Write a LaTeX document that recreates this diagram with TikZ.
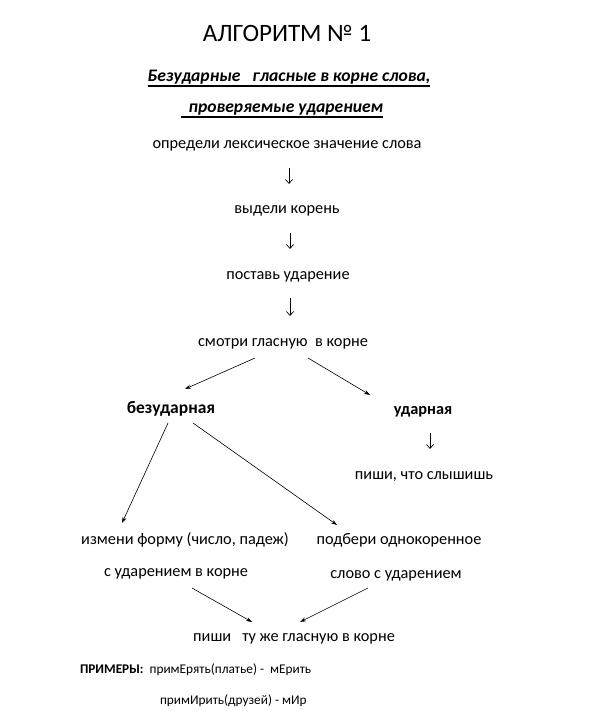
\documentclass[tikz,border=0pt]{standalone}
\usepackage{fontspec}
\setmainfont{Carlito}
\usetikzlibrary{arrows.meta}
\begin{document}
\begin{tikzpicture}[x=1pt,y=-1pt,
    every node/.style={anchor=base, inner sep=0pt, outer sep=0pt, font=\fontsize{16.3}{19}\selectfont},
    head/.style={font=\fontsize{17.6}{21}\bfseries\itshape\selectfont},
    key/.style={font=\fontsize{16.3}{19}\bfseries\selectfont},
    small/.style={anchor=base west, font=\fontsize{13.3}{16}\selectfont},
    uline/.style={line width=1.1pt},
    arr/.style={-{Stealth[length=6pt,width=4pt]}, line width=0.6pt},
    down/.style={-{Straight Barb[length=4pt,width=7pt]}, line width=0.7pt, shorten <=19pt, shorten >=30pt}]
    \useasboundingbox[fill=white] (0,0) rectangle (591,711);
    \node[font=\fontsize{25}{30}\selectfont] (title) at (287,42) {АЛГОРИТМ № 1};
    \node[head] (sub1) at (289,82) {Безударные\ \ \ гласные в корне слова,};
    \node[head] (sub2) at (282,113) {\ \ проверяемые ударением};
    \draw[uline] ([yshift=-4pt]sub1.base west) -- ([yshift=-4pt]sub1.base east);
    \draw[uline] ([yshift=-4pt]sub2.base west) -- ([yshift=-4pt]sub2.base east);
    \node (meaning) at (287,149) {определи лексическое значение слова};
    \node (root) at (287,214) {выдели корень};
    \node (stress) at (288,279) {поставь ударение};
    \node (look) at (283,346) {смотри гласную\ \ в корне};
    \node[key, font=\fontsize{17.5}{21}\bfseries\selectfont] (unstr) at (171,413) {безударная};
    \node[key] (str) at (423,414) {ударная};
    \node (hear) at (424,479) {пиши, что слышишь};
    \node (form1) at (185,544) {измени форму (число, падеж)};
    \node (form2) at (176,576) {с ударением в корне};
    \node (kin1) at (399,544) {подбери однокоренное};
    \node (kin2) at (396,578) {слово с ударением};
    \node (write) at (294,641) {пиши\ \ \ ту же гласную в корне};
    \node[small] (ex1) at (80,673) {\textbf{ПРИМЕРЫ:}\ \ примЕрять(платье) -\ \ мЕрить};
    \node[small] (ex2) at (160,704) {примИрить(друзей) - мИр};
    \draw[down] ([xshift=2pt]meaning.base) -- ([xshift=2pt]root.base);
    \draw[down] ([xshift=3pt]root.base) -- ([xshift=3pt]root.base |- stress.base);
    \draw[down] ([xshift=2pt]stress.base) -- ([xshift=2pt]stress.base |- look.base);
    \draw[arr] ([shift={(-28,12)}]look.base) -- ([shift={(14,-24)}]unstr.base);
    \draw[arr] ([shift={(25,12)}]look.base) -- ([shift={(-53,-19)}]str.base);
    \draw[down] ([xshift=7pt]str.base) -- ([xshift=7pt]str.base |- hear.base);
    \draw[arr] ([shift={(-3,10)}]unstr.base) -- ([shift={(-63,-21)}]form1.base);
    \draw[arr] ([shift={(22,10)}]unstr.base) -- ([shift={(-62,-19)}]kin1.base);
    \draw[arr] ([shift={(16,12)}]form2.base) -- ([shift={(-42,-19)}]write.base);
    \draw[arr] ([shift={(-28,10)}]kin2.base) -- ([shift={(6,-19)}]write.base);
\end{tikzpicture}
\end{document}
